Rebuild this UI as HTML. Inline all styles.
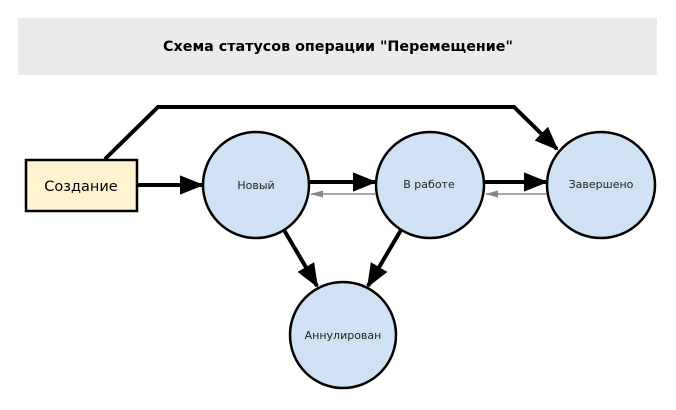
<!DOCTYPE html>
<html><head><meta charset="utf-8"><style>
html,body{margin:0;padding:0;background:#fff;}
svg{display:block;}
text{font-family:"DejaVu Sans","Liberation Sans",sans-serif;}
</style></head><body>
<svg width="676" height="410" viewBox="0 0 676 410" xmlns="http://www.w3.org/2000/svg">
<defs>
<marker id="a" markerWidth="6" markerHeight="6" refX="5.5" refY="3" orient="auto" markerUnits="strokeWidth"><path d="M0,0.6 L6,3 L0,5.4 z" fill="#000"/></marker>
<marker id="g" markerWidth="8" markerHeight="6" refX="7.5" refY="3" orient="auto" markerUnits="strokeWidth"><path d="M0,0.8 L8,3 L0,5.2 z" fill="#888"/></marker>
</defs>
<rect x="18" y="18" width="639" height="57" fill="#ebebeb"/>
<text x="338" y="51" font-size="14.3" font-weight="bold" text-anchor="middle" fill="#000">Схема статусов операции "Перемещение"</text>

<polyline points="105,159 158,107 514,107 557,149" fill="none" stroke="#000" stroke-width="4" marker-end="url(#a)"/>

<ellipse cx="256" cy="185" rx="53" ry="53" fill="#cfe1f3" stroke="#000" stroke-width="2.5"/>
<ellipse cx="430" cy="185" rx="54" ry="53" fill="#cfe1f3" stroke="#000" stroke-width="2.5"/>
<ellipse cx="601" cy="185" rx="54" ry="53" fill="#cfe1f3" stroke="#000" stroke-width="2.5"/>
<ellipse cx="343" cy="335" rx="53" ry="53" fill="#cfe1f3" stroke="#000" stroke-width="2.5"/>

<rect x="26" y="160" width="111" height="51" fill="#fff3d0" stroke="#000" stroke-width="2.5"/>
<text x="81" y="191" font-size="14.5" text-anchor="middle" fill="#000">Создание</text>

<line x1="138" y1="185" x2="202" y2="185" stroke="#000" stroke-width="4" marker-end="url(#a)"/>
<line x1="310" y1="182" x2="375" y2="182" stroke="#000" stroke-width="4" marker-end="url(#a)"/>
<line x1="376" y1="194" x2="311" y2="194" stroke="#888" stroke-width="1.6" marker-end="url(#g)"/>
<line x1="485" y1="182" x2="546" y2="182" stroke="#000" stroke-width="4" marker-end="url(#a)"/>
<line x1="547" y1="194" x2="486" y2="194" stroke="#888" stroke-width="1.6" marker-end="url(#g)"/>
<line x1="284" y1="230" x2="317" y2="286" stroke="#000" stroke-width="4" marker-end="url(#a)"/>
<line x1="401" y1="230" x2="368" y2="286" stroke="#000" stroke-width="4" marker-end="url(#a)"/>

<text x="256" y="189" font-size="11" text-anchor="middle" fill="#222">Новый</text>
<text x="429" y="188" font-size="11" text-anchor="middle" fill="#222">В работе</text>
<text x="601" y="188" font-size="11" text-anchor="middle" fill="#222">Завершено</text>
<text x="343" y="339" font-size="11" text-anchor="middle" fill="#222">Аннулирован</text>
</svg>
</body></html>
